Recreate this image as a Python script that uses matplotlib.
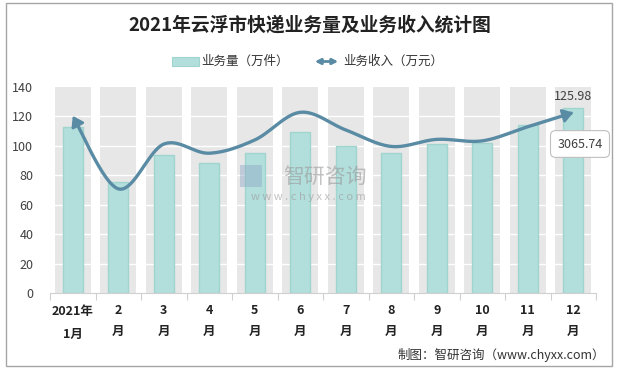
import numpy as np
import matplotlib
matplotlib.use("Agg")
import matplotlib.pyplot as plt
from matplotlib.patches import Rectangle, FancyArrowPatch

plt.rcParams['font.family'] = ['Noto Sans CJK SC', 'DejaVu Sans']

months = ["2021年\n1月", "2\n月", "3\n月", "4\n月", "5\n月", "6\n月", "7\n月", "8\n月", "9\n月", "10\n月", "11\n月", "12\n月"]
volume = [113.0, 75.2, 94.0, 88.1, 95.0, 109.7, 100.2, 95.0, 101.3, 101.8, 114.0, 125.98]
revenue = [3010, 1770, 2530, 2375, 2600, 3070, 2770, 2490, 2610, 2585, 2825, 3065.74]
yticks = [0, 20, 40, 60, 80, 100, 120, 140]

W, H = 617, 370
fig = plt.figure(figsize=(W / 100, H / 100), dpi=100)

def fx(px):
    return px / W

def fy(py):
    return 1 - py / H

ax = fig.add_axes([fx(50), fy(293), fx(596) - fx(50), fy(87) - fy(293)])
n = len(months)
x = np.arange(n)
ax.set_xlim(-0.5, n - 0.5)
ax.set_ylim(0, 140)

# gray background columns
ax.bar(x, [140] * n, width=0.8, color='#e7e7e7', zorder=1, linewidth=0)
for t in yticks[1:-1]:
    ax.axhline(t, color='white', lw=1.0, zorder=1.5)
ax.bar(x, volume, width=0.44, color='#b2dedb', edgecolor='#a0d4cf', linewidth=1.0, zorder=2)

ax.set_yticks(yticks)
ax.set_yticklabels([str(v) for v in yticks], fontsize=9, color='#404040')
ax.tick_params(axis='y', length=0, pad=12)
ax.set_xticks(np.arange(-0.5, n, 1.0))
ax.set_xticklabels([])
ax.tick_params(axis='x', length=5, color='#d0d0d0', direction='out')
for s in ['left', 'right', 'top']:
    ax.spines[s].set_visible(False)
ax.spines['bottom'].set_color('#d0d0d0')

for i, lab in enumerate(months):
    if i == 0:
        ax.text(i, -8.0, lab, ha='center', va='top', fontsize=9, fontweight='bold',
                color='#222222', linespacing=2.0, clip_on=False)
    else:
        ax.text(i, -7.5, lab, ha='center', va='top', fontsize=9, fontweight='bold',
                color='#222222', linespacing=1.75, clip_on=False)

# secondary hidden axis for revenue line
ax2 = ax.twinx()
ax2.set_ylim(0, 3500)
ax2.set_xlim(-0.5, n - 0.5)
ax2.axis('off')

# Catmull-Rom style smoothing (Excel-like), sampled densely
pts = np.column_stack([x.astype(float), np.array(revenue, float)])
P = np.vstack([pts[0], pts, pts[-1]])
t = np.linspace(0, 1, 40)[:, None]
segs = []
for i in range(1, len(P) - 2):
    p0, p1, p2, p3 = P[i - 1], P[i], P[i + 1], P[i + 2]
    b1 = p1 + (p2 - p0) / 6.0
    b2 = p2 - (p3 - p1) / 6.0
    seg = ((1 - t) ** 3) * p1 + 3 * ((1 - t) ** 2) * t * b1 + 3 * (1 - t) * t ** 2 * b2 + t ** 3 * p2
    segs.append(seg if i == 1 else seg[1:])
curve = np.vstack(segs)
lc = '#5a8ba4'
ax2.plot(curve[3:-3, 0], curve[3:-3, 1], color=lc, lw=2.4, zorder=3, solid_capstyle='round')
# arrowheads at both ends
for a, b in [(curve[6], curve[0]), (curve[-7], curve[-1])]:
    ax2.add_patch(FancyArrowPatch(tuple(a), tuple(b), arrowstyle='-|>,head_length=0.6,head_width=0.4',
                                  mutation_scale=10, color=lc, lw=2.0, zorder=4, shrinkA=0, shrinkB=0))

# data labels
ax.text(n - 1, volume[-1] + 3, f"{volume[-1]:.2f}", ha='center', va='bottom', fontsize=9, color='#404040', zorder=5)
ax2.annotate(f"{revenue[-1]:.2f}", xy=(n - 1, revenue[-1]), xytext=(fx(580), fy(144)),
             textcoords='figure fraction', ha='center', va='center', fontsize=9, color='#404040',
             bbox=dict(boxstyle='round,pad=0.55,rounding_size=0.4', fc='white', ec='#bfbfbf', lw=0.8),
             zorder=6)

# watermark
fig.text(fx(325), fy(177), "智研咨询", ha='center', va='center', fontsize=15, color='#9a9a9a', alpha=0.6)
fig.text(fx(308), fy(197), "w w w . c h y x x . c o m", ha='center', va='center', fontsize=8, color='#9a9a9a', alpha=0.6)
fig.patches.append(Rectangle((fx(240), fy(187)), fx(22), fy(165) - fy(187), transform=fig.transFigure,
                             fc='#8fa8c8', ec='none', alpha=0.45))

# title
fig.text(fx(310), fy(25), "2021年云浮市快递业务量及业务收入统计图", ha='center', va='center',
         fontsize=13.5, fontweight='bold', color='#222222')

# legend
fig.patches.append(Rectangle((fx(172), fy(66)), fx(27), fy(57) - fy(66), transform=fig.transFigure,
                             fc='#b2dedb', ec='#a0d4cf', lw=0.8))
fig.text(fx(201), fy(61.5), "业务量（万件）", ha='left', va='center', fontsize=9, color='#333333')
fig.patches.append(FancyArrowPatch((fx(312), fy(61.5)), (fx(341), fy(61.5)), transform=fig.transFigure,
                                   arrowstyle='<|-|>', mutation_scale=8, color=lc, lw=2.0))
fig.text(fx(343), fy(61.5), "业务收入（万元）", ha='left', va='center', fontsize=9, color='#333333')

# source
fig.text(fx(605), fy(355), "制图：智研咨询（www.chyxx.com）", ha='right', va='center', fontsize=9, color='#333333')

# border
fig.patches.append(Rectangle((fx(6), fy(366)), fx(606), fy(3) - fy(366), transform=fig.transFigure,
                             fc='none', ec='#a6a6a6', lw=1.0))

fig.savefig("out.png", dpi=100)
